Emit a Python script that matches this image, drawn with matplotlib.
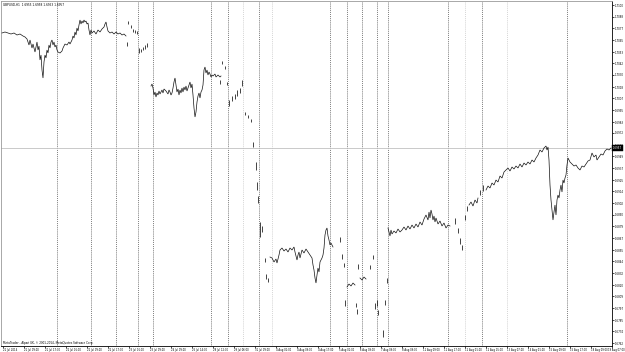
import numpy as np
import matplotlib
matplotlib.use("Agg")
import matplotlib.pyplot as plt

symbol_title = "GBPUSD,H1  1.6955 1.6958 1.6953 1.6957"
copyright_text = "MetaTrader - Alpari UK, \u00a9 2001-2014, MetaQuotes Software Corp."
last_price = 1.6957

# price series segments: (bar position, close)
seg_a = [(2, 1.7072), (5, 1.7073), (8, 1.7072), (11, 1.7071), (14, 1.7072), (17, 1.7070),
         (20, 1.7071), (23, 1.7069), (25, 1.7068), (27, 1.7066), (29, 1.7060), (30, 1.7065),
         (32, 1.7057), (33, 1.7061), (35, 1.7053), (36, 1.7058), (37, 1.7063), (38, 1.7055),
         (39, 1.7059), (40, 1.7045), (41, 1.7050), (42, 1.7035), (43, 1.7027), (44, 1.7043),
         (45, 1.7050), (46, 1.7047), (47, 1.7055), (48, 1.7052), (49, 1.7060), (50, 1.7057),
         (51, 1.7063), (52, 1.7065), (53, 1.7060), (54, 1.7063), (55, 1.7058), (56, 1.7060),
         (57, 1.7055), (58, 1.7053), (60, 1.7052), (62, 1.7054), (63, 1.7057), (65, 1.7061),
         (67, 1.7060), (69, 1.7063), (70, 1.7061), (72, 1.7065), (73, 1.7069), (74, 1.7067),
         (75, 1.7073), (76, 1.7070), (77, 1.7077), (78, 1.7074), (79, 1.7080), (80, 1.7085),
         (81, 1.7081), (82, 1.7084), (83, 1.7082), (84, 1.7085), (85, 1.7083), (86, 1.7084),
         (87, 1.7081), (88, 1.7082), (89, 1.7075), (90, 1.7070), (91, 1.7075), (92, 1.7072),
         (94, 1.7074), (96, 1.7071), (98, 1.7075), (100, 1.7073), (102, 1.7076), (104, 1.7078),
         (105, 1.7081), (106, 1.7083), (107, 1.7078), (108, 1.7074), (110, 1.7072), (112, 1.7073),
         (114, 1.7071), (116, 1.7073), (118, 1.7071), (120, 1.7072), (122, 1.7070), (124, 1.7071),
         (126, 1.7069)]

seg_b = [(151, 1.7019), (152, 1.7021), (153, 1.7017), (154, 1.7010), (155, 1.7013), (156, 1.7008),
         (157, 1.7012), (158, 1.7010), (159, 1.7014), (160, 1.7011), (162, 1.7015), (163, 1.7012),
         (164, 1.7016), (166, 1.7014), (168, 1.7011), (169, 1.7015), (170, 1.7013), (171, 1.7010),
         (172, 1.7012), (173, 1.7017), (174, 1.7023), (175, 1.7027), (176, 1.7020), (177, 1.7013),
         (178, 1.7016), (179, 1.7010), (180, 1.7015), (181, 1.7012), (182, 1.7017), (183, 1.7013),
         (184, 1.7018), (185, 1.7015), (186, 1.7019), (187, 1.7014), (188, 1.7017), (189, 1.7020),
         (190, 1.7023), (191, 1.7017), (192, 1.7021), (193, 1.7010), (194, 1.6997), (195, 1.6988),
         (196, 1.6993), (197, 1.7003), (198, 1.7009), (199, 1.7012), (200, 1.7007), (201, 1.7013),
         (202, 1.7015), (203, 1.7020), (204, 1.7035), (205, 1.7038), (206, 1.7032), (207, 1.7035),
         (208, 1.7030), (209, 1.7033), (210, 1.7031), (211, 1.7028), (212, 1.7030), (213, 1.7029),
         (215, 1.7031), (216, 1.7028), (218, 1.7030), (220, 1.7028), (221, 1.7029)]

seg_c = [(270, 1.6848), (272, 1.6847), (274, 1.6843), (276, 1.6846), (277, 1.6842), (279, 1.6850),
         (280, 1.6855), (282, 1.6857), (284, 1.6854), (286, 1.6856), (288, 1.6853), (290, 1.6857),
         (292, 1.6855), (294, 1.6858), (295, 1.6853), (296, 1.6849), (297, 1.6845), (298, 1.6850),
         (299, 1.6853), (300, 1.6847), (302, 1.6855), (304, 1.6852), (306, 1.6856), (308, 1.6853),
         (310, 1.6850), (312, 1.6847), (313, 1.6840), (314, 1.6835), (315, 1.6827), (316, 1.6822),
         (317, 1.6830), (318, 1.6837), (319, 1.6833), (320, 1.6843), (322, 1.6847), (323, 1.6850),
         (324, 1.6857), (325, 1.6870), (326, 1.6875), (327, 1.6877), (328, 1.6869), (329, 1.6865),
         (330, 1.6860), (331, 1.6862), (333, 1.6858)]

seg_d = [(347, 1.6818), (349, 1.6821), (351, 1.6819), (353, 1.6822), (355, 1.6820)]
seg_e = [(360, 1.6827), (362, 1.6825), (364, 1.6828), (366, 1.6826)]

seg_f = [(388, 1.6877), (389, 1.6873), (390, 1.6869), (391, 1.6875), (392, 1.6871), (394, 1.6874),
         (396, 1.6872), (398, 1.6876), (400, 1.6873), (402, 1.6875), (404, 1.6878), (406, 1.6875),
         (408, 1.6879), (410, 1.6876), (412, 1.6880), (414, 1.6877), (416, 1.6881), (418, 1.6878),
         (420, 1.6883), (422, 1.6880), (424, 1.6886), (426, 1.6890), (428, 1.6885), (429, 1.6893),
         (430, 1.6887), (431, 1.6895), (432, 1.6891), (433, 1.6885), (434, 1.6889), (435, 1.6883),
         (436, 1.6887), (438, 1.6881), (440, 1.6884), (442, 1.6879), (444, 1.6882), (446, 1.6877),
         (448, 1.6880), (450, 1.6879)]

seg_g = [(469, 1.6900), (471, 1.6903), (473, 1.6899), (475, 1.6905), (477, 1.6902), (478, 1.6907)]

seg_h = [(486, 1.6915), (488, 1.6919), (490, 1.6917), (492, 1.6922), (494, 1.6920), (496, 1.6925),
         (498, 1.6923), (500, 1.6929), (502, 1.6927), (504, 1.6933), (506, 1.6935), (508, 1.6937),
         (510, 1.6934), (512, 1.6938), (514, 1.6936), (516, 1.6939), (518, 1.6937), (520, 1.6941),
         (522, 1.6938), (524, 1.6942), (526, 1.6940), (528, 1.6943), (530, 1.6941), (532, 1.6945),
         (534, 1.6943), (536, 1.6947), (538, 1.6950), (540, 1.6955), (542, 1.6953), (544, 1.6957),
         (546, 1.6959), (547, 1.6955), (548, 1.6958), (549, 1.6945), (550, 1.6920), (551, 1.6905),
         (552, 1.6895), (553, 1.6885), (554, 1.6893), (555, 1.6900), (556, 1.6890), (557, 1.6905),
         (558, 1.6910), (559, 1.6907), (560, 1.6915), (561, 1.6920), (562, 1.6913), (563, 1.6925),
         (564, 1.6922), (565, 1.6927), (566, 1.6930), (567, 1.6940), (568, 1.6947), (569, 1.6945),
         (570, 1.6943), (572, 1.6941), (574, 1.6939), (576, 1.6940), (578, 1.6937), (580, 1.6935),
         (582, 1.6939), (584, 1.6938), (586, 1.6941), (588, 1.6944), (590, 1.6945), (592, 1.6952),
         (594, 1.6948), (596, 1.6950), (597, 1.6945), (599, 1.6948), (601, 1.6951), (603, 1.6950),
         (605, 1.6954), (607, 1.6956), (609, 1.6955), (611, 1.6957)]

# isolated bars in sparse areas: (bar position, high, low)
sparse_bars = [(127, 1.7063, 1.7059), (128, 1.7084, 1.7081), (131, 1.7080, 1.7077),
               (133, 1.7076, 1.7073), (135, 1.7075, 1.7072), (137, 1.7074, 1.7071),
               (139, 1.7057, 1.7052), (141, 1.7056, 1.7053), (143, 1.7058, 1.7055),
               (145, 1.7060, 1.7056), (147, 1.7062, 1.7058),
               (220, 1.7025, 1.7021), (222, 1.7044, 1.7041), (225, 1.7039, 1.7036),
               (227, 1.7023, 1.7020), (229, 1.7005, 1.6999), (232, 1.7009, 1.7004),
               (235, 1.7011, 1.7006), (237, 1.7015, 1.7009), (240, 1.7017, 1.7012),
               (242, 1.7025, 1.7019), (245, 1.6993, 1.6990), (248, 1.6990, 1.6987),
               (251, 1.6986, 1.6983), (253, 1.6963, 1.6958), (256, 1.6943, 1.6935),
               (257, 1.6923, 1.6915), (258, 1.6909, 1.6902), (260, 1.6883, 1.6868),
               (262, 1.6879, 1.6873), (265, 1.6847, 1.6843), (266, 1.6831, 1.6826),
               (268, 1.6827, 1.6823),
               (340, 1.6868, 1.6863), (342, 1.6851, 1.6846), (344, 1.6842, 1.6838),
               (345, 1.6805, 1.6799), (356, 1.6802, 1.6798), (357, 1.6796, 1.6791),
               (358, 1.6841, 1.6836), (370, 1.6840, 1.6836), (373, 1.6850, 1.6846),
               (375, 1.6802, 1.6796), (377, 1.6805, 1.6799), (378, 1.6795, 1.6790),
               (383, 1.6775, 1.6768), (385, 1.6805, 1.6800), (387, 1.6827, 1.6822),
               (455, 1.6887, 1.6881), (458, 1.6877, 1.6872), (460, 1.6867, 1.6861),
               (462, 1.6860, 1.6855), (465, 1.6890, 1.6885), (467, 1.6899, 1.6894),
               (480, 1.6915, 1.6910), (483, 1.6920, 1.6914)]

# period separators (bar positions)
separators = [57, 91, 116, 138, 153, 211, 228, 243, 259, 272, 330, 347, 362, 377, 388,
              448, 465, 482, 507, 567]
light_separators = [243, 272, 465, 507]

price_ticks = [1.7100, 1.7088, 1.7077, 1.7065, 1.7053, 1.7042, 1.7030, 1.7018, 1.7007, 1.6995,
               1.6983, 1.6972, 1.6960, 1.6949, 1.6937, 1.6925, 1.6914, 1.6902, 1.6890, 1.6879,
               1.6867, 1.6855, 1.6844, 1.6832, 1.6820, 1.6809, 1.6797, 1.6785, 1.6774, 1.6762]

time_labels = ["21 Jul 2014", "21 Jul 09:00", "21 Jul 17:00", "22 Jul 01:00", "22 Jul 09:00",
               "22 Jul 17:00", "23 Jul 01:00", "23 Jul 09:00", "24 Jul 09:00", "25 Jul 14:00",
               "28 Jul 12:00", "29 Jul 06:00", "31 Jul 09:00", "4 Aug 01:00", "4 Aug 09:00",
               "4 Aug 17:00", "5 Aug 01:00", "6 Aug 09:00", "7 Aug 09:00", "8 Aug 09:00",
               "11 Aug 09:00", "11 Aug 17:00", "12 Aug 01:00", "12 Aug 15:00", "13 Aug 07:00",
               "14 Aug 01:00", "15 Aug 09:00", "15 Aug 17:00", "18 Aug 09:00", "19 Aug 07:00"]

W, H = 625, 352
fig = plt.figure(figsize=(W / 100, H / 100), dpi=100)
fig.patch.set_facecolor("white")
ax = fig.add_axes([1 / W, 6 / H, 611 / W, 345 / H])
ax.set_xlim(1, 612)
ax.set_ylim(1.6759, 1.7104)
ax.set_facecolor("white")

for sx in separators:
    col = "#c8c8c8" if sx in light_separators else "#555555"
    ax.axvline(sx, color=col, lw=0.6, ls=(0, (1, 1.3)), zorder=1)

ax.axhline(last_price, color="#c0c0c0", lw=0.6, zorder=1)

for seg in [seg_a, seg_b, seg_c, seg_d, seg_e, seg_f, seg_g, seg_h]:
    xs, ys = zip(*seg)
    ax.plot(xs, ys, color="#111111", lw=0.5, zorder=3, solid_joinstyle="miter")

bx, bh, bl = zip(*sparse_bars)
ax.vlines(bx, bl, bh, color="#111111", lw=0.55, zorder=3)

# axes styling
for side in ["left", "top"]:
    ax.spines[side].set_color("#9a9a9a")
    ax.spines[side].set_linewidth(0.6)
for side in ["right", "bottom"]:
    ax.spines[side].set_color("black")
    ax.spines[side].set_linewidth(0.6)

ax.yaxis.tick_right()
ax.set_yticks(price_ticks)
ax.set_yticklabels([f"{p:.4f}" for p in price_ticks])
ax.tick_params(axis="y", length=1.2, width=0.5, pad=0.6, labelsize=1.9, colors="black")

xt = np.arange(len(time_labels)) * 21 + 3
ax.set_xticks(xt)
ax.set_xticklabels(time_labels[:-1] + [""])
ax.tick_params(axis="x", length=1.2, width=0.5, pad=0.6, labelsize=1.8, colors="black")
for lab in ax.get_xticklabels():
    lab.set_ha("left")
# last time label sits at the right edge of the window
fig.text(624.5 / W, 1 - 349.5 / H, time_labels[-1], fontsize=1.8, ha="right", va="center",
         color="black")

ax.text(3, 1.7100, symbol_title, fontsize=2.1, ha="left", va="center", color="black")
ax.text(3, 1.6762, copyright_text, fontsize=2.0, ha="left", va="center", color="black")

# current price marker on the price scale
ax.text(1.0015, last_price, f"{last_price:.4f}", transform=ax.get_yaxis_transform(),
        fontsize=1.9, ha="left", va="center", color="white",
        bbox=dict(boxstyle="square,pad=0.25", fc="black", ec="black", lw=0.3))

fig.savefig("out.png", dpi=100, facecolor="white")
